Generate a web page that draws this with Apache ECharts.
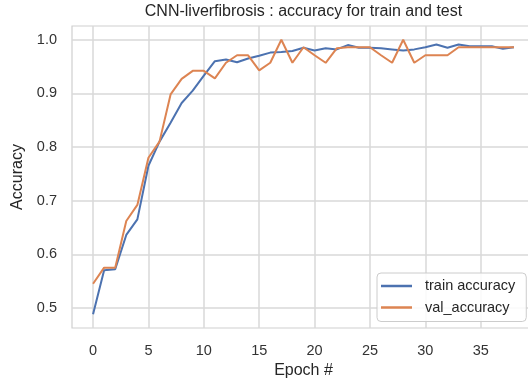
<!DOCTYPE html>
<html>
<head>
<meta charset="utf-8">
<script src="https://cdn.jsdelivr.net/npm/echarts@6/dist/echarts.min.js"></script>
<style>html,body{margin:0;padding:0;background:#fff}#c{width:528px;height:378px}</style>
</head>
<body>
<div id="c"></div>
<script>
const epochs = Array.from({length: 39}, (_, i) => i);
const trainAccuracy = [0.488,0.570,0.572,0.636,0.665,0.765,0.810,0.845,0.882,0.905,0.933,0.960,0.963,0.958,0.965,0.970,0.976,0.977,0.979,0.985,0.980,0.984,0.982,0.990,0.985,0.985,0.984,0.982,0.980,0.982,0.986,0.991,0.985,0.991,0.988,0.988,0.988,0.983,0.986];
const valAccuracy = [0.545,0.575,0.575,0.662,0.692,0.780,0.810,0.898,0.927,0.942,0.942,0.928,0.957,0.971,0.971,0.943,0.957,1.0,0.957,0.986,0.971,0.957,0.984,0.986,0.986,0.986,0.971,0.957,1.0,0.957,0.971,0.971,0.971,0.986,0.986,0.986,0.986,0.986,0.986];
const xTicks = [0,5,10,15,20,25,30,35];
const yTicks = [0.5,0.6,0.7,0.8,0.9,1.0];
const titleText = 'CNN-liverfibrosis : accuracy for train and test';
const seriesNames = ['train accuracy','val_accuracy'];

const chart = echarts.init(document.getElementById('c'), null, {renderer:'canvas'});
const font = 'Liberation Sans, Arial, sans-serif';
const gridColor = '#d9d9d9';
chart.setOption({
  animation: false,
  backgroundColor: '#fff',
  title: {
    text: titleText, left: 303.5, top: 4, textAlign: 'center', padding: 0,
    textStyle: {fontFamily: font, fontSize: 16, fontWeight: 'normal', color: '#262626'}
  },
  grid: {left: 72, top: 26, bottom: 50, right: -7, outerBoundsMode: 'none', containLabel: false, show: true, borderColor: '#cfcfcf', borderWidth: 1.2, backgroundColor: 'transparent'},
  legend: {
    orient: 'vertical', left: 377, top: 273,
    padding: [5, 11, 6, 4], itemGap: 5.5,
    itemWidth: 31, itemHeight: 2.5, icon: 'rect',
    backgroundColor: 'rgba(255,255,255,0.85)', borderColor: '#cccccc', borderWidth: 1, borderRadius: 4,
    textStyle: {fontFamily: font, fontSize: 14.5, color: '#262626', lineHeight: 16, padding: [0,0,0,8]},
    data: seriesNames
  },
  xAxis: {
    type: 'value', min: -1.9, max: 39.9,
    name: 'Epoch #', nameLocation: 'middle', nameGap: 28,
    nameTextStyle: {fontFamily: font, fontSize: 16, color: '#262626'},
    axisLine: {show: false}, axisTick: {show: false, customValues: xTicks},
    axisLabel: {customValues: xTicks, fontFamily: font, fontSize: 14.5, color: '#333', margin: 15},
    splitLine: {show: true, lineStyle: {color: gridColor, width: 1.5}}
  },
  yAxis: {
    type: 'value', min: 0.4625, max: 1.0256,
    name: 'Accuracy', nameLocation: 'middle', nameGap: 37,
    nameTextStyle: {fontFamily: font, fontSize: 16, color: '#262626'},
    axisLine: {show: false}, axisTick: {show: false, customValues: yTicks},
    axisLabel: {customValues: yTicks, fontFamily: font, fontSize: 14.5, color: '#333', margin: 15, formatter: v => v.toFixed(1)},
    splitLine: {show: true, lineStyle: {color: gridColor, width: 1.5}}
  },
  series: [
    {name: seriesNames[0], type: 'line', data: epochs.map((e,i)=>[e, trainAccuracy[i]]), showSymbol: false, symbol: 'none', lineStyle: {color: '#4C72B0', width: 2}, itemStyle: {color: '#4C72B0'}, z: 3},
    {name: seriesNames[1], type: 'line', data: epochs.map((e,i)=>[e, valAccuracy[i]]), showSymbol: false, symbol: 'none', lineStyle: {color: '#DD8452', width: 2}, itemStyle: {color: '#DD8452'}, z: 4}
  ]
});
</script>
</body>
</html>
